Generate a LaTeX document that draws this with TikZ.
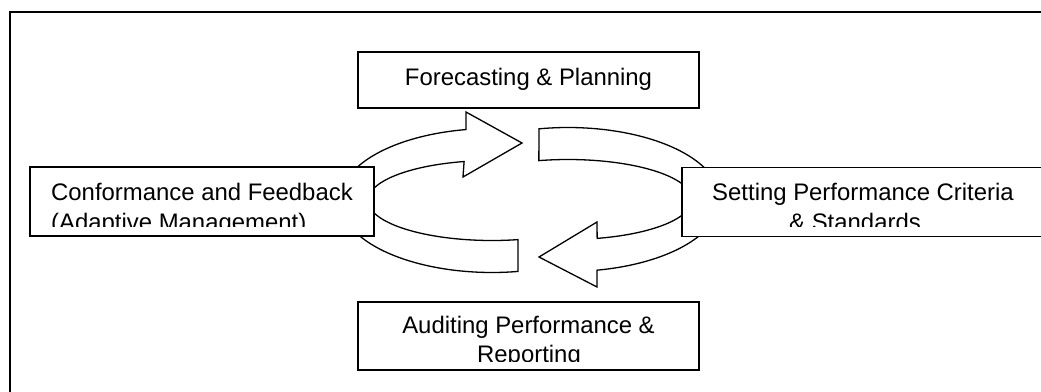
\documentclass[tikz,border=0pt]{standalone}
\usepackage{fontspec}
\setmainfont{Liberation Sans}
\begin{document}
\begin{tikzpicture}[x=1pt,y=-1pt,
  frameline/.style={draw, line width=2pt},
  box/.style={draw, fill=white, line width=1.8pt, rectangle, inner sep=0pt},
  cyclearrow/.style={draw, fill=white, line width=1.3pt, line join=miter},
  txt/.style={inner sep=0pt, font=\fontsize{23.9}{30}\selectfont}]
\useasboundingbox (0,0) rectangle (1041,391);
\clip (0,0) rectangle (1041,391);
% outer frame (only top and left visible)
\draw[frameline] (10,400) -- (10,12) -- (1050,12);
% circular arrows
\draw[cyclearrow] plot[domain=80.15:260.15,samples=90] ({492+152*cos(\x)},{200.5+72*sin(\x)})
  -- (466,112) -- (522,143) -- (463,177)
  -- plot[domain=77.9:257,samples=90] ({492+124*cos(334.9-\x)},{200.5+40*sin(334.9-\x)}) -- cycle;
\draw[cyclearrow] plot[domain=259:439,samples=90] ({568+152*cos(\x)},{199.5+72*sin(\x)})
  -- (597,287) -- (539,257) -- (597,222)
  -- plot[domain=256.5:436.5,samples=90] ({568+124*cos(692.9-\x)},{199.5+40*sin(692.9-\x)}) -- cycle;
% boxes
\node[box, minimum width=341pt, minimum height=56pt] (plan) at (528.5,80) {};
\node[box, minimum width=344pt, minimum height=69pt] (conf) at (202,201.5) {};
\node[box, minimum width=364pt, minimum height=69pt] (sett) at (864,202) {};
\node[box, minimum width=341pt, minimum height=68pt] (audit) at (528.5,336) {};
% texts
\node[txt, anchor=base] (planT) at (528.5,85) {Forecasting \& Planning};
\node[txt, anchor=base west] (confT) at (51,200) {Conformance and Feedback};
\node[txt, anchor=base] (settT) at (863,200) {Setting Performance Criteria};
\node[txt, anchor=base] (auditT) at (528.5,333) {Auditing Performance \&};
\begin{scope}
  \clip (30,168) rectangle (374,226);
  \node[txt, anchor=base west] (confT2) at (51,230) {(Adaptive Management)};
\end{scope}
\begin{scope}
  \clip (682,168) rectangle (1041,226);
  \node[txt, anchor=base] (settT2) at (855,230) {\& Standards};
\end{scope}
\begin{scope}
  \clip (358,302) rectangle (699,361);
  \node[txt, anchor=base] (auditT2) at (529,362) {Reporting};
\end{scope}
\end{tikzpicture}
\end{document}
